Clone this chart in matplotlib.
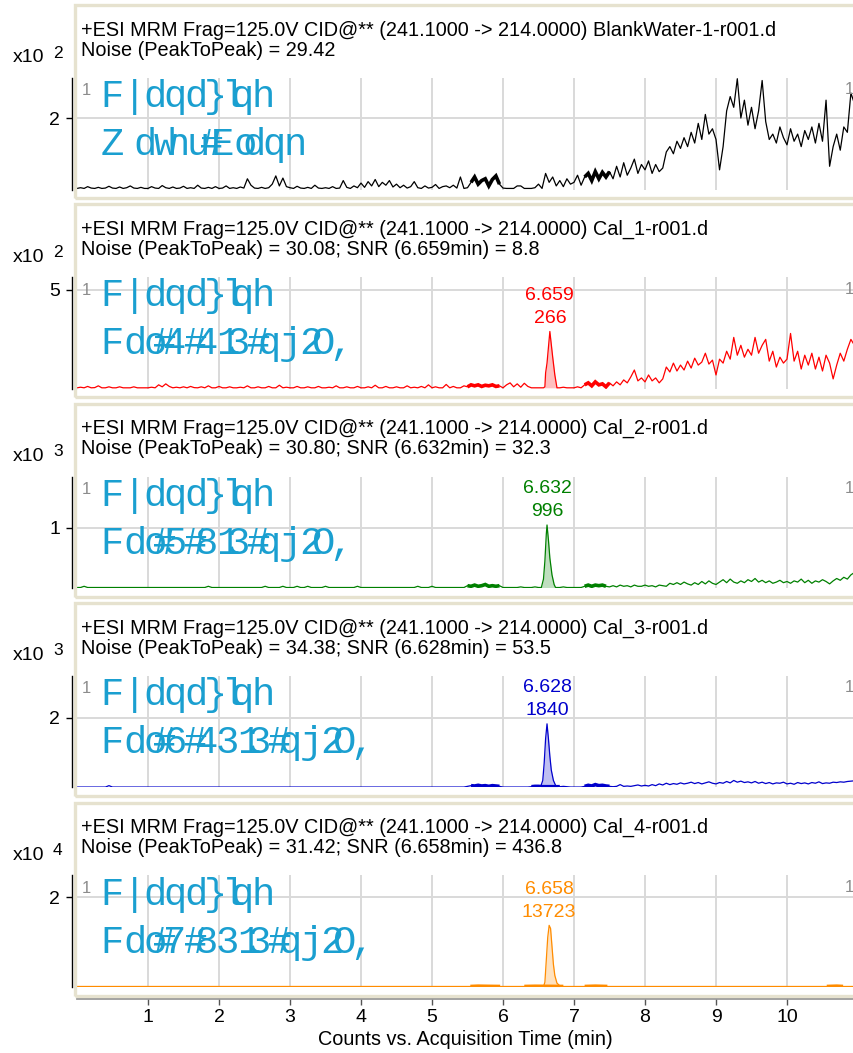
import numpy as np
import matplotlib.pyplot as plt
from matplotlib.patches import Rectangle
from matplotlib.font_manager import FontProperties, findfont, get_font

plt.rcParams['font.family'] = ['Liberation Sans', 'DejaVu Sans']

W, H = 854, 1053

# ---- data -------------------------------------------------------------
time_grid = np.round(np.arange(0, 11.0, 0.05), 2)

black_v = [
    0.03, 0.05, 0.03, 0.08, 0.04, 0.03, 0.06, 0.03, 0.04, 0.09,
    0.04, 0.03, 0.07, 0.03, 0.05, 0.10, 0.04, 0.03, 0.06, 0.03,
    0.03, 0.08, 0.04, 0.03, 0.11, 0.05, 0.03, 0.07, 0.03, 0.04,
    0.09, 0.03, 0.05, 0.03, 0.12, 0.04, 0.03, 0.06, 0.03, 0.08,
    0.03, 0.04, 0.10, 0.03, 0.05, 0.03, 0.07, 0.04, 0.30, 0.12,
    0.04, 0.03, 0.06, 0.03, 0.05, 0.15, 0.38, 0.10, 0.32, 0.08,
    0.05, 0.03, 0.09, 0.04, 0.03, 0.06, 0.03, 0.12, 0.04, 0.03,
    0.05, 0.03, 0.08, 0.03, 0.04, 0.25, 0.06, 0.03, 0.10, 0.05,
    0.18, 0.06, 0.22, 0.10, 0.28, 0.08, 0.20, 0.12, 0.25, 0.07,
    0.15, 0.05, 0.12, 0.04, 0.08, 0.22, 0.05, 0.03, 0.10, 0.04,
    0.06, 0.14, 0.03, 0.08, 0.10, 0.05, 0.12, 0.04, 0.35, 0.03,
    0.05, 0.20, 0.35, 0.15, 0.25, 0.30, 0.10, 0.28, 0.38, 0.15,
    0.04, 0.03, 0.03, 0.03, 0.10, 0.10, 0.03, 0.03, 0.03, 0.05,
    0.15, 0.03, 0.45, 0.20, 0.35, 0.10, 0.25, 0.08, 0.30, 0.15,
    0.20, 0.40, 0.12, 0.35, 0.45, 0.25, 0.50, 0.30, 0.48, 0.35,
    0.50, 0.30, 0.65, 0.35, 0.75, 0.40, 0.60, 0.85, 0.45, 0.70,
    0.55, 0.80, 0.45, 0.70, 0.50, 0.60, 1.05, 1.20, 1.00, 1.35,
    1.15, 1.45, 1.20, 1.60, 1.30, 1.85, 1.40, 2.10, 1.55, 1.70,
    1.40, 0.55, 1.20, 2.20, 2.60, 2.30, 3.10, 2.00, 2.50, 1.80,
    2.30, 1.70, 2.20, 3.05, 1.90, 1.40, 1.55, 1.30, 1.75, 1.45,
    1.25, 1.70, 1.35, 1.55, 1.20, 1.65, 1.40, 1.75, 1.30, 1.85,
    1.35, 2.50, 0.65, 1.20, 1.55, 1.10, 1.75, 1.60, 2.70, 2.40,
]

red_v = [
    0.05, 0.08, 0.05, 0.12, 0.05, 0.06, 0.15, 0.05, 0.05, 0.10,
    0.05, 0.05, 0.10, 0.05, 0.05, 0.05, 0.10, 0.05, 0.05, 0.05,
    0.05, 0.08, 0.05, 0.20, 0.10, 0.25, 0.12, 0.05, 0.08, 0.05,
    0.10, 0.05, 0.12, 0.06, 0.05, 0.10, 0.05, 0.15, 0.05, 0.05,
    0.12, 0.05, 0.05, 0.10, 0.05, 0.05, 0.08, 0.05, 0.15, 0.05,
    0.05, 0.10, 0.05, 0.05, 0.12, 0.05, 0.05, 0.18, 0.05, 0.08,
    0.05, 0.05, 0.12, 0.05, 0.05, 0.10, 0.05, 0.05, 0.12, 0.05,
    0.05, 0.08, 0.05, 0.15, 0.05, 0.05, 0.10, 0.05, 0.05, 0.12,
    0.05, 0.05, 0.10, 0.05, 0.18, 0.05, 0.05, 0.12, 0.05, 0.05,
    0.10, 0.05, 0.05, 0.15, 0.05, 0.08, 0.05, 0.12, 0.05, 0.20,
    0.05, 0.10, 0.05, 0.05, 0.22, 0.05, 0.12, 0.05, 0.05, 0.15,
    0.10, 0.20, 0.15, 0.20, 0.12, 0.18, 0.15, 0.20, 0.12, 0.15,
    0.05, 0.20, 0.30, 0.10, 0.25, 0.08, 0.28, 0.12, 0.05, 0.05,
    0.05, 0.05, 0.05, 0.05, 0.05, 0.05, 0.05, 0.08, 0.05, 0.05,
    0.05, 0.10, 0.05, 0.20, 0.30, 0.15, 0.35, 0.20, 0.25, 0.10,
    0.30, 0.15, 0.35, 0.20, 0.45, 0.30, 0.60, 0.95, 0.40, 0.55,
    0.35, 0.70, 0.40, 0.55, 0.30, 0.50, 1.10, 0.85, 1.30, 0.90,
    1.20, 0.95, 1.40, 1.05, 1.55, 1.20, 1.35, 1.80, 1.25, 1.45,
    0.70, 1.50, 1.30, 1.90, 1.50, 2.60, 1.70, 2.20, 1.60, 2.00,
    1.70, 2.60, 1.80, 2.20, 2.50, 1.40, 1.90, 1.10, 1.60, 1.30,
    1.50, 2.80, 1.40, 1.90, 1.00, 1.70, 1.20, 1.80, 1.00, 1.60,
    0.90, 1.70, 1.30, 0.50, 1.20, 1.80, 1.40, 2.00, 2.50, 2.20,
]

green_v = [
    0.01, 0.01, 0.03, 0.01, 0.01, 0.01, 0.01, 0.01, 0.01, 0.01,
    0.01, 0.01, 0.01, 0.01, 0.01, 0.01, 0.01, 0.01, 0.01, 0.01,
    0.01, 0.01, 0.01, 0.01, 0.01, 0.01, 0.01, 0.01, 0.01, 0.01,
    0.01, 0.01, 0.01, 0.01, 0.01, 0.01, 0.01, 0.03, 0.01, 0.01,
    0.01, 0.01, 0.01, 0.01, 0.01, 0.01, 0.01, 0.01, 0.01, 0.01,
    0.01, 0.01, 0.01, 0.03, 0.01, 0.01, 0.01, 0.01, 0.03, 0.01,
    0.01, 0.01, 0.03, 0.01, 0.01, 0.03, 0.01, 0.01, 0.01, 0.01,
    0.03, 0.01, 0.01, 0.01, 0.01, 0.01, 0.01, 0.01, 0.01, 0.03,
    0.01, 0.01, 0.01, 0.01, 0.01, 0.01, 0.01, 0.01, 0.01, 0.01,
    0.01, 0.01, 0.01, 0.01, 0.01, 0.01, 0.03, 0.01, 0.01, 0.01,
    0.03, 0.01, 0.01, 0.01, 0.01, 0.01, 0.01, 0.01, 0.01, 0.01,
    0.04, 0.03, 0.05, 0.03, 0.04, 0.06, 0.03, 0.04, 0.03, 0.04,
    0.01, 0.01, 0.01, 0.01, 0.01, 0.02, 0.01, 0.01, 0.01, 0.02,
    0.01, 0.01, 0.01, 0.01, 0.01, 0.01, 0.01, 0.02, 0.01, 0.01,
    0.01, 0.01, 0.01, 0.03, 0.05, 0.03, 0.05, 0.04, 0.05, 0.03,
    0.02, 0.04, 0.02, 0.05, 0.03, 0.04, 0.02, 0.05, 0.03, 0.03,
    0.05, 0.03, 0.04, 0.02, 0.05, 0.04, 0.03, 0.08, 0.06, 0.09,
    0.06, 0.10, 0.07, 0.05, 0.09, 0.06, 0.11, 0.07, 0.12, 0.08,
    0.06, 0.10, 0.14, 0.09, 0.15, 0.10, 0.08, 0.12, 0.09, 0.14,
    0.11, 0.16, 0.10, 0.13, 0.09, 0.12, 0.08, 0.10, 0.13, 0.09,
    0.11, 0.08, 0.12, 0.10, 0.15, 0.09, 0.13, 0.08, 0.12, 0.10,
    0.14, 0.11, 0.07, 0.12, 0.16, 0.13, 0.18, 0.15, 0.22, 0.26,
]

blue_v = [
    0.01, 0.01, 0.01, 0.01, 0.01, 0.01, 0.01, 0.01, 0.01, 0.05,
    0.01, 0.01, 0.01, 0.01, 0.01, 0.01, 0.01, 0.01, 0.01, 0.01,
    0.01, 0.01, 0.01, 0.01, 0.01, 0.01, 0.01, 0.01, 0.01, 0.01,
    0.01, 0.01, 0.01, 0.01, 0.01, 0.01, 0.01, 0.01, 0.01, 0.01,
    0.01, 0.01, 0.01, 0.01, 0.01, 0.01, 0.01, 0.01, 0.01, 0.01,
    0.01, 0.01, 0.01, 0.01, 0.01, 0.01, 0.01, 0.01, 0.01, 0.01,
    0.01, 0.01, 0.01, 0.01, 0.01, 0.01, 0.01, 0.01, 0.01, 0.01,
    0.01, 0.01, 0.01, 0.01, 0.01, 0.01, 0.01, 0.01, 0.01, 0.01,
    0.01, 0.01, 0.01, 0.01, 0.01, 0.01, 0.01, 0.01, 0.01, 0.01,
    0.01, 0.01, 0.01, 0.01, 0.01, 0.01, 0.01, 0.01, 0.01, 0.01,
    0.01, 0.01, 0.01, 0.01, 0.01, 0.01, 0.01, 0.01, 0.01, 0.01,
    0.03, 0.05, 0.04, 0.06, 0.04, 0.05, 0.03, 0.05, 0.04, 0.03,
    0.01, 0.01, 0.01, 0.01, 0.01, 0.01, 0.01, 0.01, 0.02, 0.03,
    0.03, 0.02, 0.02, 0.02, 0.02, 0.02, 0.02, 0.03, 0.02, 0.01,
    0.01, 0.01, 0.01, 0.03, 0.06, 0.04, 0.08, 0.05, 0.06, 0.04,
    0.03, 0.02, 0.03, 0.08, 0.03, 0.04, 0.03, 0.05, 0.07, 0.04,
    0.06, 0.04, 0.08, 0.05, 0.10, 0.07, 0.12, 0.08, 0.11, 0.09,
    0.13, 0.10, 0.12, 0.15, 0.11, 0.14, 0.10, 0.13, 0.16, 0.12,
    0.10, 0.14, 0.12, 0.17, 0.13, 0.20, 0.15, 0.18, 0.14, 0.16,
    0.13, 0.17, 0.12, 0.15, 0.11, 0.14, 0.10, 0.13, 0.12, 0.15,
    0.10, 0.12, 0.09, 0.14, 0.11, 0.13, 0.10, 0.14, 0.12, 0.16,
    0.11, 0.13, 0.12, 0.15, 0.14, 0.16, 0.15, 0.17, 0.18, 0.19,
]

orange_t = [0.0, 5.54, 5.65, 5.8, 5.96, 6.3, 6.45, 6.85, 7.15, 7.3, 7.47,
            10.56, 10.7, 10.79, 10.95]
orange_v = [0.005, 0.005, 0.012, 0.008, 0.005, 0.005, 0.01, 0.005, 0.005,
            0.012, 0.005, 0.005, 0.012, 0.005, 0.005]

# integrated peaks (time, intensity)
red_peak_t = [6.57, 6.59, 6.60, 6.62, 6.66, 6.70, 6.73, 6.76]
red_peak_v = [0.05, 0.10, 0.80, 1.30, 2.90, 1.60, 0.70, 0.05]
green_peak_t = [6.54, 6.57, 6.59, 6.61, 6.62, 6.64, 6.66, 6.69, 6.72, 6.74]
green_peak_v = [0.01, 0.15, 0.45, 0.90, 1.05, 0.80, 0.50, 0.22, 0.06, 0.01]
blue_peak_t = [6.53, 6.56, 6.58, 6.60, 6.62, 6.64, 6.66, 6.68, 6.71, 6.74, 6.77]
blue_peak_v = [0.02, 0.20, 0.70, 1.40, 1.83, 1.40, 0.90, 0.50, 0.20, 0.06, 0.02]
orange_peak_t = [6.57, 6.59, 6.61, 6.63, 6.65, 6.67, 6.69, 6.71, 6.73, 6.76, 6.80]
orange_peak_v = [0.0, 0.10, 0.60, 1.10, 1.37, 1.30, 0.90, 0.50, 0.25, 0.08, 0.02]

# dense (unresolved) scan regions
black_bands = [(5.55, 5.95), (7.15, 7.52)]
red_bands = [(5.50, 5.96), (7.13, 7.54)]
green_bands = [(5.49, 5.96), (7.15, 7.48)]
blue_bands = [(5.54, 5.96), (6.40, 6.82), (7.15, 7.50)]
orange_bands = [(5.54, 5.96), (6.30, 6.85), (7.15, 7.47), (10.56, 10.79)]

samples = ["BlankWater-1-r001.d", "Cal_1-r001.d", "Cal_2-r001.d",
           "Cal_3-r001.d", "Cal_4-r001.d"]
noise = ["29.42", "30.08", "30.80", "34.38", "31.42"]
snr = [None, "SNR (6.659min) = 8.8", "SNR (6.632min) = 32.3",
       "SNR (6.628min) = 53.5", "SNR (6.658min) = 436.8"]
compound_txt = "F|dqd}lqh"
level_txt = ["Zdwhu#Eodqn", "Fdo#4#413#qj2O,", "Fdo#5#813#qj2O,",
             "Fdo#6#4313#qj2O,", "Fdo#7#8313#qj2O,"]
peak_rt = [None, "6.659", "6.632", "6.628", "6.658"]
peak_height = [None, "266", "996", "1840", "13723"]
exponents = ["2", "2", "3", "3", "4"]
ytick_vals = [2, 5, 1, 2, 2]
ytop = [3.12, 5.64, 1.855, 3.21, 2.49]
colors = ["black", "#ff0000", "#008000", "#0000cc", "#ff8c00"]
x_ticks = [1, 2, 3, 4, 5, 6, 7, 8, 9, 10]

traces = [
    (time_grid, black_v, None, None, black_bands),
    (time_grid, red_v, red_peak_t, red_peak_v, red_bands),
    (time_grid, green_v, green_peak_t, green_peak_v, green_bands),
    (time_grid, blue_v, blue_peak_t, blue_peak_v, blue_bands),
    (orange_t, orange_v, orange_peak_t, orange_peak_v, orange_bands),
]

# ---- helpers ----------------------------------------------------------
def fx(px):
    return px / W


def fy(py):
    return 1 - py / H


# the cyan label glyphs sit on the advance widths of the unshifted text
adv_font = get_font(findfont(FontProperties(family="DejaVu Sans")))
adv_font.set_size(33, 72)


def pen_positions(s):
    plain = "".join(chr(ord(c) - 3) for c in s)
    pos = [0.0]
    for c in plain:
        g = adv_font.load_char(ord(c))
        pos.append(pos[-1] + g.linearHoriAdvance / 65536)
    return pos


def glyph_text(s, x0, y0):
    pos = pen_positions(s)
    for k, ch in enumerate(s):
        fig.text(fx(x0 + pos[k] + 13.5), fy(y0), ch, ha="center", va="baseline",
                 family="Liberation Mono", fontsize=28, color="#1a9fd0")


# ---- figure -----------------------------------------------------------
fig = plt.figure(figsize=(W / 100, H / 100), dpi=100, facecolor="white")

FS = 14
HS = 14.3
for i in range(5):
    frame_top = 5 + 199.4 * i
    plot_top = 78 + 199.3 * i
    plot_h = 111.5
    c = colors[i]

    fig.patches.append(Rectangle((fx(75.5), fy(frame_top + 193)), fx(W), 193 / H,
                                 transform=fig.transFigure, fill=False,
                                 edgecolor="#e6e2cf", lw=2.4, zorder=0))

    ax = fig.add_axes([fx(77), fy(plot_top + plot_h), fx(853 - 77), plot_h / H])
    ax.set_xlim(0, (853 - 77) / 71)
    ax.set_ylim(0, ytop[i])
    ax.set_facecolor("none")
    for s in ["top", "right", "bottom"]:
        ax.spines[s].set_visible(False)
    ax.spines["left"].set_position(("outward", 3.6))
    ax.spines["left"].set_linewidth(1)
    ax.set_xticks(x_ticks)
    ax.set_yticks([ytick_vals[i]])
    ax.grid(True, color="#d9d9d9", lw=1.4)
    ax.set_axisbelow(True)
    ax.tick_params(axis="y", direction="out", length=4.5, width=1, pad=4,
                   labelsize=FS)
    if i < 4:
        ax.tick_params(axis="x", length=0, labelbottom=False)
    else:
        ax.spines["bottom"].set_visible(True)
        ax.spines["bottom"].set_position(("outward", 8.2))
        ax.spines["bottom"].set_color("#9a9a9a")
        ax.spines["bottom"].set_linewidth(2)
        ax.tick_params(axis="x", direction="out", length=5, width=1,
                       color="#555555", pad=3, labelsize=FS)
        ax.set_xlabel("Counts vs. Acquisition Time (min)", fontsize=HS, labelpad=3)

    t, v, pt, pv, bands = traces[i]
    t = np.asarray(t)
    v = np.asarray(v)
    for (b0, b1) in bands:
        m = (t >= b0) & (t <= b1)
        ax.plot(t[m], v[m], color=c, lw=2.6, solid_capstyle="butt",
                solid_joinstyle="miter", zorder=3)
    if pt is not None:
        keep = (t < pt[0]) | (t > pt[-1])
        tt = np.concatenate([t[keep], pt])
        vv = np.concatenate([v[keep], pv])
        order = np.argsort(tt)
        tt, vv = tt[order], vv[order]
        ax.fill_between(pt, min(pv), pv, color=c, alpha=0.25, lw=0, zorder=2)
        k = int(np.argmax(pv))
        ax.annotate(peak_rt[i], (pt[k], pv[k]), xytext=(0, 36 * 0.72),
                    textcoords="offset points", ha="center", va="center",
                    color=c, fontsize=FS)
        ax.annotate(peak_height[i], (pt[k], pv[k]), xytext=(0, 13 * 0.72),
                    textcoords="offset points", ha="center", va="center",
                    color=c, fontsize=FS)
    else:
        tt, vv = t, v
    ax.plot(tt, vv, color=c, lw=0.9, zorder=3)

    # header lines
    line2 = "Noise (PeakToPeak) = " + noise[i]
    if snr[i]:
        line2 += "; " + snr[i]
    fig.text(fx(81), fy(frame_top + 25),
             "+ESI MRM Frag=125.0V CID@** (241.1000 -> 214.0000) " + samples[i],
             ha="left", va="center", fontsize=HS)
    fig.text(fx(81), fy(frame_top + 45), line2, ha="left", va="center", fontsize=HS)

    # exponent label
    fig.text(fx(13), fy(plot_top - 20), "x10", ha="left", va="center", fontsize=FS)
    fig.text(fx(53), fy(plot_top - 25), exponents[i], ha="left", va="center",
             fontsize=12.5)

    # grey index markers
    fig.text(fx(86), fy(plot_top + 13), "1", ha="center", va="center",
             fontsize=12, color="#8c8c8c")
    fig.text(fx(849), fy(plot_top + 12), "1", ha="center", va="center",
             fontsize=12, color="#8c8c8c")

    # compound / level labels
    glyph_text(compound_txt, 98.5, frame_top + 102)
    glyph_text(level_txt[i], 98.5, frame_top + 150)

fig.savefig("out.png", dpi=100)
